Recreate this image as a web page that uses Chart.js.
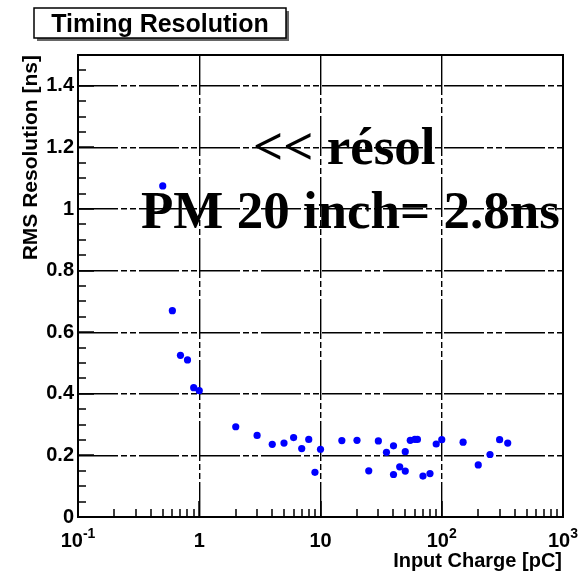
<!DOCTYPE html>
<html>
<head>
<meta charset="utf-8">
<script src="https://cdn.jsdelivr.net/npm/chart.js@4"></script>
<style>
  html, body { margin: 0; padding: 0; background: #fff; }
  #wrap { width: 587px; height: 576px; }
</style>
</head>
<body>
<div id="wrap"><canvas id="c" width="587" height="576"></canvas></div>
<script>
// Measured timing resolution versus input charge
const charge = [0.5, 0.6, 0.7, 0.8, 0.9, 1.0, 2, 3, 4, 5, 6, 7, 8, 9, 10, 15, 20, 25, 30, 35,
                40, 40, 45, 50, 50, 55, 60, 63, 70, 80, 90, 100, 150, 200, 250, 300, 350];
const rms    = [1.075, 0.67, 0.525, 0.51, 0.42, 0.41, 0.293, 0.265, 0.236, 0.24, 0.258, 0.222, 0.252, 0.145, 0.22, 0.248, 0.249, 0.15, 0.247, 0.21,
                0.231, 0.138, 0.163, 0.212, 0.149, 0.249, 0.252, 0.252, 0.133, 0.141, 0.237, 0.251, 0.243, 0.169, 0.203, 0.251, 0.24];

// Axis ticks
const xTickValues = [0.1, 1, 10, 100, 1000];
const xTickBase   = ['10', '1', '10', '10', '10'];
const xTickExp    = ['-1', '', '', '2', '3'];
const yTickValues = [0, 0.2, 0.4, 0.6, 0.8, 1.0, 1.2, 1.4];
const yTickLabels = ['0', '0.2', '0.4', '0.6', '0.8', '1', '1.2', '1.4'];

// Texts
const chartTitle = 'Timing Resolution';
const xTitle = 'Input Charge [pC]';
const yTitle = 'RMS Resolution [ns]';
const noteLines = ['<< résol', 'PM 20 inch= 2.8ns'];

const SANS = '"Liberation Sans", Arial, Helvetica, sans-serif';
const SERIF = '"Liberation Serif", "Times New Roman", Times, serif';
const gridDash = [40, 3, 6, 3, 6, 3];

const rootStyle = {
  id: 'rootStyle',
  beforeDraw(chart) {
    const ctx = chart.ctx;
    ctx.save();
    ctx.fillStyle = '#fff';
    ctx.fillRect(0, 0, chart.width, chart.height);
    ctx.restore();
  },
  afterDraw(chart) {
    const ctx = chart.ctx;
    const a = chart.chartArea;
    const xs = chart.scales.x, ys = chart.scales.y;
    ctx.save();

    // frame
    ctx.strokeStyle = '#000';
    ctx.lineWidth = 2;
    ctx.setLineDash([]);
    ctx.strokeRect(a.left, a.top, a.right - a.left, a.bottom - a.top);

    // inward tick marks
    ctx.lineWidth = 1.5;
    ctx.beginPath();
    for (let d = 0; d < xTickValues.length - 1; d++) {
      const dec = xTickValues[d];
      for (let k = 1; k <= 9; k++) {
        const px = Math.round(xs.getPixelForValue(dec * k));
        const len = k === 1 ? 16 : 8;
        ctx.moveTo(px, a.bottom);
        ctx.lineTo(px, a.bottom - len);
      }
    }
    for (let i = 0; i <= 30; i++) {
      const py = Math.round(ys.getPixelForValue(i * 0.05));
      const len = i % 4 === 0 ? 16 : 8;
      ctx.moveTo(a.left, py);
      ctx.lineTo(a.left + len, py);
    }
    ctx.stroke();

    // x tick labels with exponents
    ctx.fillStyle = '#000';
    ctx.textBaseline = 'alphabetic';
    ctx.textAlign = 'left';
    xTickValues.forEach((v, i) => {
      const px = xs.getPixelForValue(v);
      ctx.font = 'bold 20px ' + SANS;
      const wb = ctx.measureText(xTickBase[i]).width;
      ctx.font = 'bold 14px ' + SANS;
      const we = xTickExp[i] ? ctx.measureText(xTickExp[i]).width : 0;
      const x0 = px - (wb + we) / 2;
      ctx.font = 'bold 20px ' + SANS;
      ctx.fillText(xTickBase[i], x0, 547);
      if (xTickExp[i]) {
        ctx.font = 'bold 14px ' + SANS;
        ctx.fillText(xTickExp[i], x0 + wb, 538);
      }
    });

    // axis titles
    ctx.font = 'bold 20px ' + SANS;
    ctx.textAlign = 'right';
    ctx.fillText(xTitle, a.right - 1, 567);

    ctx.save();
    ctx.translate(37, a.top);
    ctx.rotate(-Math.PI / 2);
    ctx.font = 'bold 21px ' + SANS;
    ctx.textAlign = 'right';
    ctx.fillText(yTitle, 0, 0);
    ctx.restore();

    // title box with shadow
    ctx.fillStyle = '#666';
    ctx.fillRect(37, 11, 252, 30);
    ctx.fillStyle = '#fff';
    ctx.fillRect(34, 8, 252, 30);
    ctx.strokeStyle = '#000';
    ctx.lineWidth = 1.5;
    ctx.strokeRect(34, 8, 252, 30);
    ctx.fillStyle = '#000';
    ctx.font = 'bold 25px ' + SANS;
    ctx.textAlign = 'center';
    ctx.fillText(chartTitle, 160, 32);

    // annotation
    ctx.font = 'bold 53px ' + SERIF;
    ctx.textAlign = 'left';
    ctx.fillText(noteLines[0], 253, 164);
    ctx.fillText(noteLines[1], 141, 228);

    ctx.restore();
  }
};

new Chart(document.getElementById('c'), {
  type: 'scatter',
  data: {
    datasets: [{
      data: charge.map((c, i) => ({ x: c, y: rms[i] })),
      backgroundColor: '#0000ff',
      borderColor: '#0000ff',
      borderWidth: 0,
      pointRadius: 3.6,
      pointHoverRadius: 3.6
    }]
  },
  options: {
    responsive: false,
    animation: false,
    devicePixelRatio: 1,
    layout: { padding: { left: 0, right: 24, top: 55, bottom: 0 } },
    plugins: { legend: { display: false }, tooltip: { enabled: false }, title: { display: false } },
    scales: {
      x: {
        type: 'logarithmic',
        min: 0.1,
        max: 1000,
        afterBuildTicks: s => { s.ticks = xTickValues.map(v => ({ value: v })); },
        afterFit: s => { s.height = 59; },
        ticks: { display: false },
        grid: { color: '#000', lineWidth: 1.4, drawTicks: false },
        border: { display: false, dash: gridDash }
      },
      y: {
        type: 'linear',
        min: 0,
        max: 1.5,
        afterBuildTicks: s => { s.ticks = yTickValues.map(v => ({ value: v })); },
        afterFit: s => { s.width = 78; },
        ticks: {
          callback: (v, i) => yTickLabels[i],
          font: { family: SANS, size: 20, weight: 'bold' },
          color: '#000',
          padding: 4
        },
        grid: { color: '#000', lineWidth: 1.4, drawTicks: false },
        border: { display: false, dash: gridDash }
      }
    }
  },
  plugins: [rootStyle]
});
</script>
</body>
</html>
